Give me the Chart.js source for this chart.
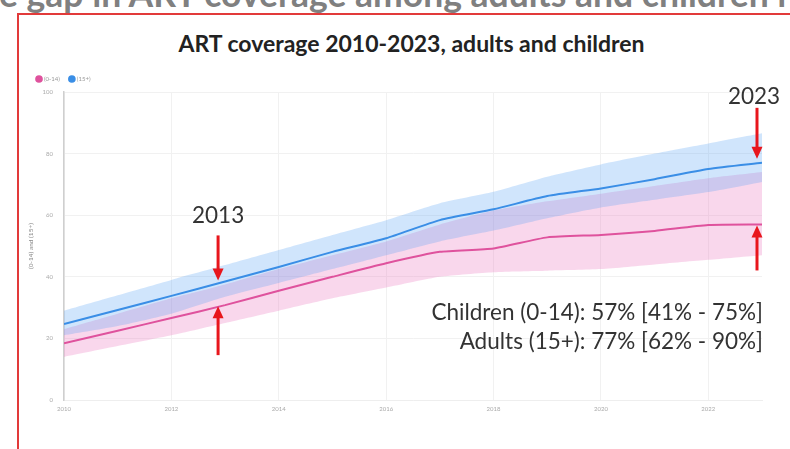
<!DOCTYPE html>
<html>
<head>
<meta charset="utf-8">
<script src="https://cdn.jsdelivr.net/npm/chart.js@4"></script>
<style>
  html, body { margin: 0; padding: 0; background: #fff; }
  body { width: 790px; height: 449px; position: relative; overflow: hidden; font-family: Lato, "Open Sans", sans-serif; }
  #slideTitle {
    position: absolute; left: -1px; top: -26px; white-space: nowrap;
    font: bold 35.5px Lato, sans-serif; color: #808080; line-height: 40px;
  }
  #frame {
    position: absolute; left: 17px; top: 13px; width: 800px; height: 460px;
    border-left: 2px solid #e23a3a; border-top: 2px solid #e23a3a;
  }
  #chartTitle {
    position: absolute; left: 0; width: 823px; top: 29px; text-align: center;
    font: bold 23px Lato, sans-serif; color: #222;
  }
  #wrap { position: absolute; left: 0; top: 0; width: 790px; height: 449px; }
</style>
</head>
<body>
<div id="slideTitle">e gap in ART coverage among adults and children i</div>
<div id="frame"></div>
<div id="chartTitle">ART coverage 2010-2023, adults and children</div>
<div id="wrap"><canvas id="grafico" width="790" height="449"></canvas></div>
<script>
// ART coverage (%) by year
const years = [2010, 2011, 2012, 2013, 2014, 2015, 2016, 2017, 2018, 2019, 2020, 2021, 2022, 2023];
const children = [18.4, 22.5, 26.6, 30.8, 35.5, 40, 44.4, 48.1, 49.2, 52.8, 53.6, 54.9, 56.8, 57];
const childrenHigh = [23, 28, 33, 37.5, 42.5, 47, 51.5, 57, 61.5, 64.5, 67, 69.5, 72, 74];
const childrenLow = [14, 17.5, 21, 25, 29, 33, 36.5, 40, 41.5, 42, 42.5, 44, 45.5, 47];
const adults = [24.7, 29.2, 33.8, 38.5, 43.2, 48.1, 52.5, 58.4, 61.9, 66.2, 68.7, 71.7, 75, 77];
const adultsHigh = [29, 34, 39, 43.8, 48.7, 53.6, 58.4, 63.9, 67.6, 72.5, 76.5, 80, 83.3, 86.6];
const adultsLow = [21, 24, 28, 33.5, 38, 42.5, 47, 51.5, 55, 59, 62.5, 65, 67.5, 70.8];
const yTicks = [0, 20, 40, 60, 80, 100];

const pts = (vals) => years.map((yr, i) => ({ x: yr, y: vals[i] }));

function arrow(ctx, x, y0, y1) {
    const dir = y1 > y0 ? 1 : -1;
    ctx.save();
    ctx.strokeStyle = '#e8161c';
    ctx.fillStyle = '#e8161c';
    ctx.lineWidth = 3;
    ctx.beginPath();
    ctx.moveTo(x, y0);
    ctx.lineTo(x, y1 - dir * 10);
    ctx.stroke();
    ctx.beginPath();
    ctx.moveTo(x, y1);
    ctx.lineTo(x - 5.5, y1 - dir * 12);
    ctx.lineTo(x + 5.5, y1 - dir * 12);
    ctx.closePath();
    ctx.fill();
    ctx.restore();
}

// arrows and text callouts
const notes = {
    id: 'notes',
    afterDatasetsDraw(chart) {
        const ctx = chart.ctx;
        const xs = chart.scales.x, ys = chart.scales.y;
        const i13 = years.indexOf(2013), i23 = years.indexOf(2023);

        const x13 = xs.getPixelForValue(2013) - 7;
        const a13 = ys.getPixelForValue(adults[i13]);
        const c13 = ys.getPixelForValue(children[i13]);
        arrow(ctx, x13, a13 - 46, a13 - 1);
        arrow(ctx, x13, c13 + 50, c13 + 1);

        const x23 = xs.getPixelForValue(2023) - 5;
        const a23 = ys.getPixelForValue(adults[i23]);
        const c23 = ys.getPixelForValue(children[i23]);
        arrow(ctx, x23, a23 - 55, a23 - 4);
        arrow(ctx, x23, c23 + 46, c23 + 1);

        ctx.save();
        ctx.fillStyle = '#333';
        ctx.font = '22.5px Lato';
        ctx.textBaseline = 'middle';
        ctx.textAlign = 'center';
        ctx.fillText('2013', x13, a13 - 66);
        ctx.fillText('2023', x23 - 3, a23 - 66);
        ctx.textAlign = 'right';
        const right = xs.getPixelForValue(2023) + 1;
        ctx.fillText('Children (0-14): ' + children[i23] + '% [41% - 75%]', right, ys.getPixelForValue(28.4));
        ctx.fillText('Adults (15+): ' + adults[i23] + '% [62% - 90%]', right, ys.getPixelForValue(19));
        ctx.restore();
    }
};

const ctx = document.getElementById('grafico');

new Chart(ctx, {
    type: 'line',
    data: {
        datasets: [
            { label: '(0-14)', data: pts(children), borderColor: '#df529d', backgroundColor: '#df529d', borderWidth: 2, pointRadius: 0, tension: 0.2, fill: false },
            { label: '(15+)', data: pts(adults), borderColor: '#3a8ee6', backgroundColor: '#3a8ee6', borderWidth: 2, pointRadius: 0, tension: 0.2, fill: false },
            { label: 'adultsHigh', data: pts(adultsHigh), borderWidth: 0, pointRadius: 0, tension: 0.2, backgroundColor: 'rgba(80,160,245,0.27)', fill: '+1' },
            { label: 'adultsLow', data: pts(adultsLow), borderWidth: 0, pointRadius: 0, tension: 0.2, fill: false },
            { label: 'childrenHigh', data: pts(childrenHigh), borderWidth: 0, pointRadius: 0, tension: 0.2, backgroundColor: 'rgba(232,110,185,0.28)', fill: '+1' },
            { label: 'childrenLow', data: pts(childrenLow), borderWidth: 0, pointRadius: 0, tension: 0.2, fill: false }
        ]
    },
    options: {
        responsive: false,
        animation: false,
        layout: { padding: { left: 27, right: 28, top: 66, bottom: 33 } },
        plugins: {
            legend: {
                position: 'top',
                align: 'start',
                labels: {
                    filter: (item) => item.datasetIndex < 2,
                    usePointStyle: true,
                    pointStyle: 'circle',
                    boxWidth: 4,
                    boxHeight: 4,
                    padding: 10,
                    color: '#999',
                    font: { size: 6, family: 'Lato' }
                }
            },
            tooltip: { enabled: false }
        },
        scales: {
            x: {
                type: 'linear',
                min: 2010,
                max: 2023,
                afterFit: (s) => { s.height = 16; },
                border: { color: '#eee' },
                grid: { color: '#f1f1f1', drawTicks: false },
                ticks: {
                    stepSize: 2,
                    includeBounds: false,
                    padding: 5,
                    color: '#aaa',
                    font: { size: 6, family: 'Lato' },
                    callback: (v) => String(v)
                }
            },
            y: {
                min: 0,
                max: 100,
                afterFit: (s) => { s.width = 37; },
                afterBuildTicks: (s) => { s.ticks = yTicks.map(v => ({ value: v })); },
                border: { color: '#cfcfcf', width: 1.5 },
                grid: { color: '#f1f1f1', drawTicks: false },
                title: { display: true, text: '(0-14) and (15+)', color: '#888', font: { size: 6.5, family: 'Lato' }, padding: 0 },
                ticks: { padding: 11, color: '#aaa', font: { size: 6, family: 'Lato' } }
            }
        }
    },
    plugins: [notes]
});
</script>
</body>
</html>
